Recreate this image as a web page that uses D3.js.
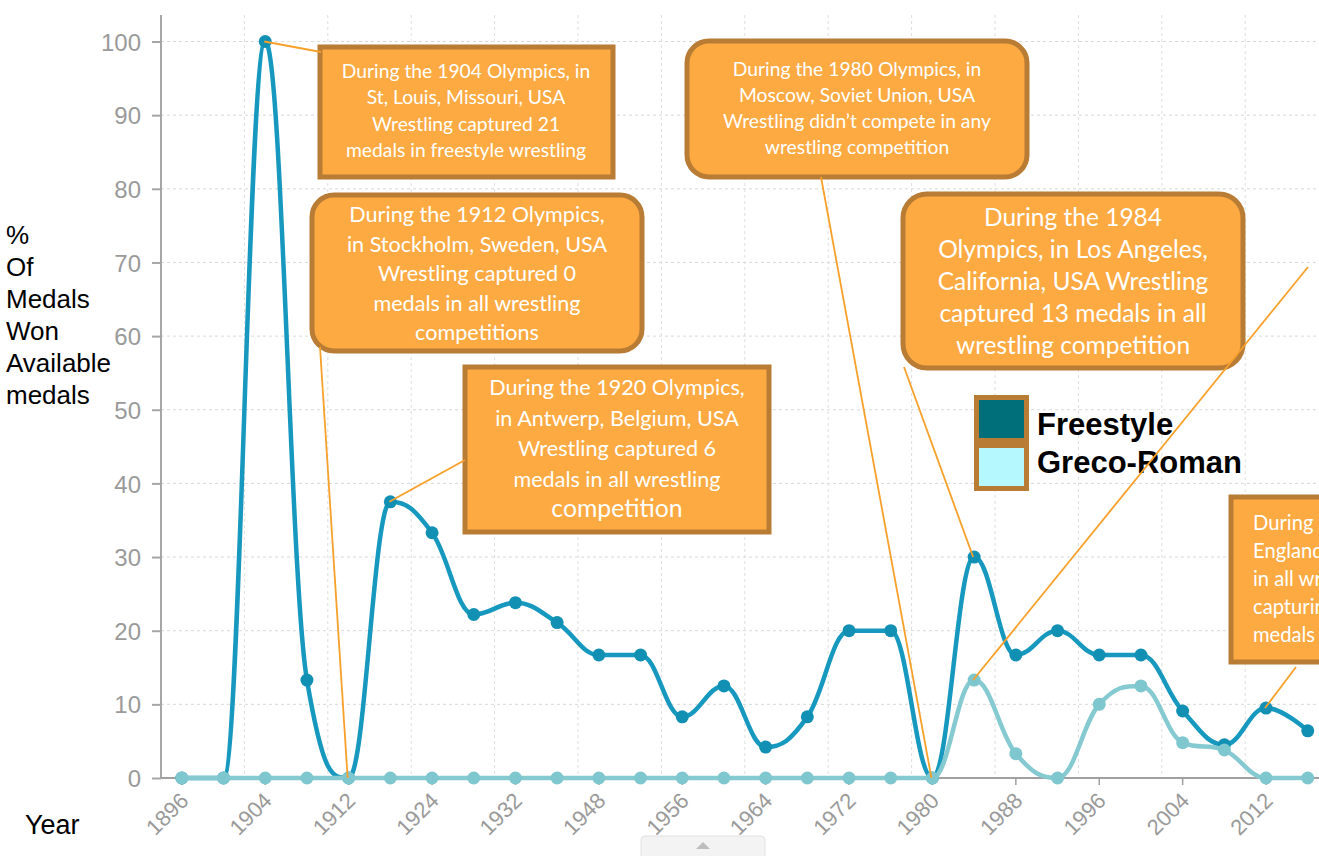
<!DOCTYPE html>
<html>
<head>
<meta charset="utf-8">
<script src="https://cdn.jsdelivr.net/npm/d3@7/dist/d3.min.js"></script>
<style>
  html, body { margin: 0; padding: 0; background: #fff; }
  svg { display: block; }
</style>
</head>
<body>
<svg id="chart" width="1319" height="856"></svg>
<script>
// ---------------- data ----------------
const years = [1896, 1900, 1904, 1908, 1912, 1920, 1924, 1928, 1932, 1936, 1948, 1952, 1956, 1960,
               1964, 1968, 1972, 1976, 1980, 1984, 1988, 1992, 1996, 2000, 2004, 2008, 2012, 2016];
const freestyle = [0, 0, 100, 13.3, 0, 37.5, 33.3, 22.2, 23.8, 21.1, 16.7, 16.7, 8.3, 12.5,
                   4.2, 8.3, 20, 20, 0, 30, 16.7, 20, 16.7, 16.7, 9.1, 4.5, 9.5, 6.4];
const grecoRoman = [0, 0, 0, 0, 0, 0, 0, 0, 0, 0, 0, 0, 0, 0,
                    0, 0, 0, 0, 0, 13.3, 3.3, 0, 10, 12.5, 4.8, 3.8, 0, 0];
const yTicks = [0, 10, 20, 30, 40, 50, 60, 70, 80, 90, 100];
const xLabelYears = [1896, 1904, 1912, 1924, 1932, 1948, 1956, 1964, 1972, 1980, 1988, 1996, 2004, 2012];
const yTitleLines = ["%", "Of", "Medals", "Won", "Available", "medals"];
const xTitle = "Year";
const seriesNames = ["Freestyle", "Greco-Roman"];

const annotations = [
  { year: 1904, lines: ["During the 1904 Olympics, in", "St, Louis, Missouri, USA", "Wrestling captured 21", "medals in freestyle wrestling"] },
  { year: 1912, lines: ["During the 1912 Olympics,", "in Stockholm, Sweden, USA", "Wrestling captured 0", "medals in all wrestling", "competitions"] },
  { year: 1920, lines: ["During the 1920 Olympics,", "in Antwerp, Belgium, USA", "Wrestling captured 6", "medals in all wrestling", "competition"] },
  { year: 1980, lines: ["During the 1980 Olympics, in", "Moscow, Soviet Union, USA", "Wrestling didn\u2019t compete in any", "wrestling competition"] },
  { year: 1984, lines: ["During the 1984", "Olympics, in Los Angeles,", "California, USA Wrestling", "captured 13 medals in all", "wrestling competition"] },
  { year: 2012, lines: ["During the 2012", "England, USA", "in all wrestling", "capturing 4", "medals"] }
];

// ---------------- layout ----------------
const svg = d3.select("#chart");
const W = 1319, H = 856;
const plotLeft = 161, plotTop = 15, plotBottom = 778;
const catW = 41.7;

const x = d3.scaleBand().domain(years).range([plotLeft, plotLeft + catW * years.length]).padding(0);
const xc = yr => x(yr) + x.bandwidth() / 2;
const y = d3.scaleLinear().domain([0, 100]).range([plotBottom, 41.5]);

// Highcharts-like spline curve
function HCSpline(ctx) { this._context = ctx; }
HCSpline.prototype = {
  areaStart() {}, areaEnd() {},
  lineStart() { this._pts = []; },
  point(px, py) { this._pts.push([+px, +py]); },
  lineEnd() {
    const p = this._pts, c = this._context, s = 1.5, den = s + 1;
    if (!p.length) return;
    c.moveTo(p[0][0], p[0][1]);
    let prevRight = null;
    for (let i = 1; i < p.length; i++) {
      const [px, py] = p[i];
      let left = null, right = null;
      if (i < p.length - 1) {
        const [lx, ly] = p[i - 1], [nx, ny] = p[i + 1];
        let lcx = (s * px + lx) / den, lcy = (s * py + ly) / den;
        let rcx = (s * px + nx) / den, rcy = (s * py + ny) / den;
        let corr = 0;
        if (rcx !== lcx) corr = ((rcy - lcy) * (rcx - px)) / (rcx - lcx) + py - rcy;
        lcy += corr; rcy += corr;
        if (lcy > ly && lcy > py) { lcy = Math.max(ly, py); rcy = 2 * py - lcy; }
        else if (lcy < ly && lcy < py) { lcy = Math.min(ly, py); rcy = 2 * py - lcy; }
        if (rcy > ny && rcy > py) { rcy = Math.max(ny, py); lcy = 2 * py - rcy; }
        else if (rcy < ny && rcy < py) { rcy = Math.min(ny, py); lcy = 2 * py - rcy; }
        left = [lcx, lcy]; right = [rcx, rcy];
      }
      const c1 = prevRight || p[i - 1];
      const c2 = left || p[i];
      c.bezierCurveTo(c1[0], c1[1], c2[0], c2[1], px, py);
      prevRight = right;
    }
  }
};
const curveHC = ctx => new HCSpline(ctx);

const axisFont = "'Liberation Sans', Arial, sans-serif";
const noteFont = "Lato, 'Open Sans', sans-serif";

// ---------------- grid ----------------
const grid = svg.append("g");
grid.selectAll("line.h").data(yTicks.filter(d => d > 0)).join("line")
  .attr("x1", plotLeft).attr("x2", W)
  .attr("y1", d => y(d)).attr("y2", d => y(d))
  .attr("stroke", "#d9d9d9").attr("stroke-width", 1).attr("stroke-dasharray", "3,3");
const vBounds = d3.range(2, years.length + 1, 2).map(i => plotLeft + i * x.bandwidth());
grid.selectAll("line.v").data(vBounds).join("line")
  .attr("x1", d => d).attr("x2", d => d)
  .attr("y1", plotTop).attr("y2", plotBottom)
  .attr("stroke", "#dedede").attr("stroke-width", 1).attr("stroke-dasharray", "3,3");

// ---------------- axes ----------------
const yAxis = svg.append("g").attr("transform", `translate(${plotLeft},0)`)
  .call(d3.axisLeft(y).tickValues(yTicks).tickSize(9).tickPadding(11));
yAxis.select(".domain").remove();
yAxis.append("line").attr("x1", 0).attr("x2", 0).attr("y1", plotTop).attr("y2", plotBottom)
  .attr("stroke", "#a6a6a6").attr("stroke-width", 2);
yAxis.selectAll(".tick line").attr("stroke", "#a6a6a6").attr("stroke-width", 2);
yAxis.selectAll(".tick text").attr("fill", "#9a9a9a").style("font-family", axisFont)
  .style("font-size", "24px").attr("dy", "0.36em");

const xAxisG = svg.append("g").attr("transform", `translate(0,${plotBottom})`);
xAxisG.append("line").attr("x1", plotLeft).attr("x2", W).attr("y1", 0).attr("y2", 0)
  .attr("stroke", "#a0a0a0").attr("stroke-width", 2);
xAxisG.selectAll("line.t").data(xLabelYears).join("line")
  .attr("x1", d => xc(d)).attr("x2", d => xc(d)).attr("y1", 0).attr("y2", 7)
  .attr("stroke", "#a0a0a0").attr("stroke-width", 1.5);
xAxisG.selectAll("text").data(xLabelYears).join("text")
  .attr("transform", d => `translate(${xc(d) + 8},${24}) rotate(-45)`)
  .attr("text-anchor", "end")
  .attr("fill", "#9a9a9a").style("font-family", axisFont).style("font-size", "22px")
  .text(d => d);

// axis titles
svg.append("text").attr("x", 6).attr("y", 0)
  .style("font-family", axisFont).style("font-size", "26px").attr("fill", "#000")
  .selectAll("tspan").data(yTitleLines).join("tspan")
  .attr("x", 6).attr("y", (d, i) => 244 + i * 32).text(d => d);
svg.append("text").attr("x", 25).attr("y", 834)
  .style("font-family", axisFont).style("font-size", "27px").attr("fill", "#000").text(xTitle);

// ---------------- series ----------------
const line = d3.line().x(d => xc(d.year)).y(d => y(d.v)).curve(curveHC);
const fData = years.map((yr, i) => ({ year: yr, v: freestyle[i] }));
const gData = years.map((yr, i) => ({ year: yr, v: grecoRoman[i] }));

const fCol = "#1798be", fDot = "#1290b4";
const gCol = "#85cad1", gDot = "#7fc7ce";

svg.append("path").datum(fData).attr("d", line).attr("fill", "none")
  .attr("stroke", fCol).attr("stroke-width", 4.5).attr("stroke-linejoin", "round");
svg.append("g").selectAll("circle").data(fData).join("circle")
  .attr("cx", d => xc(d.year)).attr("cy", d => y(d.v)).attr("r", 6.5).attr("fill", fDot);

svg.append("path").datum(gData).attr("d", line).attr("fill", "none")
  .attr("stroke", gCol).attr("stroke-width", 4.5).attr("stroke-linejoin", "round");
svg.append("g").selectAll("circle").data(gData).join("circle")
  .attr("cx", d => xc(d.year)).attr("cy", d => y(d.v)).attr("r", 6.5).attr("fill", gDot);

// ---------------- annotations ----------------
const boxFill = "#fdaa42", boxStroke = "#b97c34", connCol = "#f7a02a";
const boxes = [
  { x: 320, y: 47, w: 293, h: 130, r: 0, fs: 19.3, lh: 26.3, first: 78, cx: 466 },
  { x: 312, y: 195, w: 330, h: 156, r: 22, fs: 21.6, lh: 29.5, first: 222, cx: 477 },
  { x: 465, y: 367, w: 304, h: 165, r: 0, fs: 21.6, lh: 30.5, first: 395, cx: 617, lastFs: 24.8 },
  { x: 687, y: 41, w: 340, h: 136, r: 22, fs: 19.3, lh: 26, first: 76, cx: 857 },
  { x: 903, y: 194, w: 340, h: 174, r: 24, fs: 24.5, lh: 32, first: 226, cx: 1073 },
  { x: 1231, y: 497, w: 200, h: 165, r: 0, fs: 20.2, lh: 28, first: 530, cx: 1253, anchor: "start" }
];
// connectors: from data point to box edge point
const connectors = [
  { year: 1904, v: freestyle[years.indexOf(1904)], to: [321, 52] },
  { year: 1912, v: freestyle[years.indexOf(1912)], to: [320, 347] },
  { year: 1920, v: freestyle[years.indexOf(1920)], to: [465, 460] },
  { year: 1980, v: freestyle[years.indexOf(1980)], to: [821, 177] },
  { year: 1984, v: freestyle[years.indexOf(1984)], to: [904, 367] },
  { year: 1984, v: grecoRoman[years.indexOf(1984)], to: [1308, 267] },
  { year: 2012, v: freestyle[years.indexOf(2012)], to: [1296, 667] }
];

const annG = svg.append("g");
annotations.forEach((a, k) => {
  const b = boxes[k];
  annG.append("rect").attr("x", b.x).attr("y", b.y).attr("width", b.w).attr("height", b.h)
    .attr("rx", b.r).attr("ry", b.r)
    .attr("fill", boxFill).attr("stroke", boxStroke).attr("stroke-width", 5);
  const t = annG.append("text").attr("text-anchor", b.anchor || "middle")
    .attr("fill", "#fff").style("font-family", noteFont);
  a.lines.forEach((ln, i) => {
    t.append("tspan").attr("x", b.cx).attr("y", b.first + i * b.lh)
      .style("font-size", (b.lastFs && i === a.lines.length - 1 ? b.lastFs : b.fs) + "px")
      .text(ln);
  });
});

// ---------------- legend ----------------
const leg = svg.append("g");
const legCols = ["#006f7a", "#b5f8fd"];
seriesNames.forEach((nm, i) => {
  leg.append("rect").attr("x", 976.5).attr("y", 397.5 + i * 48).attr("width", 50).attr("height", 43)
    .attr("fill", legCols[i]).attr("stroke", boxStroke).attr("stroke-width", 5);
  leg.append("text").attr("x", 1037).attr("y", 435 + i * 38)
    .style("font-family", axisFont).style("font-weight", "bold").style("font-size", "31px")
    .attr("fill", "#000").text(nm);
});

// connectors drawn on top
svg.append("g").selectAll("line").data(connectors).join("line")
  .attr("x1", d => xc(d.year) - 1).attr("y1", d => y(d.v))
  .attr("x2", d => d.to[0]).attr("y2", d => d.to[1])
  .attr("stroke", connCol).attr("stroke-width", 1.8);

// ---------------- scroll tab ----------------
svg.append("rect").attr("x", 641).attr("y", 836).attr("width", 124).attr("height", 30).attr("rx", 4)
  .attr("fill", "#f3f3f3").attr("stroke", "#e2e2e2");
svg.append("path").attr("d", "M696,849 L703,842 L710,849 Z").attr("fill", "#bdbdbd");
</script>
</body>
</html>
